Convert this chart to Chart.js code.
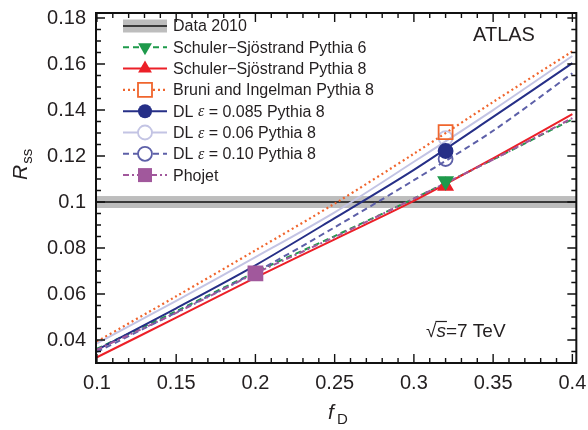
<!DOCTYPE html>
<html><head><meta charset="utf-8">
<script src="https://cdn.jsdelivr.net/npm/chart.js@4/dist/chart.umd.min.js"></script>
<style>html,body{margin:0;padding:0;background:#fff}#wrap{width:588px;height:430px;position:relative}</style>
</head><body><div id="wrap"><canvas id="c" width="588" height="430"></canvas></div>
<script>
// ---------- data ----------
const fD = [0.1, 0.15, 0.2, 0.25, 0.3, 0.35, 0.4];
const schulerP6 = [0.0362, 0.0525, 0.0695, 0.0852, 0.1015, 0.1185, 0.1360];
const schulerP8 = [0.0325, 0.0497, 0.0671, 0.0838, 0.1005, 0.1190, 0.1382];
const bruniP8   = [0.0393, 0.0590, 0.0790, 0.0993, 0.1210, 0.1435, 0.1655];
const dl085P8   = [0.0357, 0.0538, 0.0725, 0.0930, 0.1140, 0.1370, 0.1604];
const dl06P8    = [0.0385, 0.0570, 0.0760, 0.0955, 0.1175, 0.1400, 0.1635];
const dl10P8    = [0.0348, 0.0520, 0.0695, 0.0890, 0.1095, 0.1310, 0.1560];
const phojet    = [0.0358, 0.0518, 0.0690, 0.0848, 0.1015, 0.1185, 0.1365];

const pythiaMarkerX = [0.32];
const schulerP6Marker = [0.1091];
const schulerP8Marker = [0.1070];
const bruniP8Marker   = [0.1304];
const dl085P8Marker   = [0.1222];
const dl06P8Marker    = [0.1278];
const dl10P8Marker    = [0.1187];
const phojetMarkerX   = [0.2];
const phojetMarker    = [0.0690];

const data2010 = [0.1];
const data2010Err = [0.0026];

const xTicks = [0.1, 0.15, 0.2, 0.25, 0.3, 0.35, 0.4];
const xTickLabels = ['0.1', '0.15', '0.2', '0.25', '0.3', '0.35', '0.4'];
const yTicks = [0.04, 0.06, 0.08, 0.1, 0.12, 0.14, 0.16, 0.18];
const yTickLabels = ['0.04', '0.06', '0.08', '0.1', '0.12', '0.14', '0.16', '0.18'];

const legendLabels = ['Data 2010', 'Schuler\u2212Sj\u00f6strand Pythia 6', 'Schuler\u2212Sj\u00f6strand Pythia 8',
  'Bruni and Ingelman Pythia 8', 'DL \u03b5 = 0.085 Pythia 8', 'DL \u03b5 = 0.06 Pythia 8', 'DL \u03b5 = 0.10 Pythia 8', 'Phojet'];

// ---------- styles ----------
const SANS = '"Liberation Sans", Arial, Helvetica, sans-serif';
const SERIF = '"Liberation Serif", "Times New Roman", serif';
const TXT = '#231f20';
const styles = [
  null,
  {color:'#1e9a4b', dash:[6,4], width:2, shape:'triDown', fill:true, r:8},
  {color:'#ec2028', dash:[], width:2, shape:'triUp', fill:true, r:8},
  {color:'#f0652d', dash:[2,3], width:2.2, shape:'square', fill:false, r:7},
  {color:'#262f87', dash:[], width:2, shape:'circle', fill:true, r:7},
  {color:'#c3c4e4', dash:[], width:2, shape:'circle', fill:false, r:7},
  {color:'#5d60a8', dash:[6,4], width:2, shape:'circle', fill:false, r:7},
  {color:'#a1589c', dash:[6,3,2,3], width:2, shape:'square', fill:true, r:7}
];
const lineVals = [null, schulerP6, schulerP8, bruniP8, dl085P8, dl06P8, dl10P8, phojet];
const markerVals = [null, schulerP6Marker, schulerP8Marker, bruniP8Marker, dl085P8Marker, dl06P8Marker, dl10P8Marker, phojetMarker];
const markerXs = [null, pythiaMarkerX, pythiaMarkerX, pythiaMarkerX, pythiaMarkerX, pythiaMarkerX, pythiaMarkerX, phojetMarkerX];

function toPts(xs, ys){ return xs.map((x,i)=>({x:x, y:ys[i]})); }

const datasets = [];
for (let k = 1; k < styles.length; k++) {
  const s = styles[k];
  datasets.push({
    label: legendLabels[k], data: toPts(fD, lineVals[k]),
    borderColor: s.color, borderWidth: s.width, borderDash: s.dash,
    pointRadius: 0, fill: false, tension: 0.3, order: 10 - k
  });
}
for (let k = 1; k < styles.length; k++) {
  const s = styles[k];
  const pstyle = s.shape === 'circle' ? 'circle' : (s.shape === 'square' ? 'rect' : 'triangle');
  const rr = s.shape === 'square' ? s.r * 1.41 : s.r;
  datasets.push({
    label: legendLabels[k] + ' marker', data: toPts(markerXs[k], markerVals[k]),
    showLine: false, pointStyle: pstyle, pointRadius: rr,
    pointRotation: s.shape === 'triDown' ? 180 : 0,
    pointBorderColor: s.color, pointBorderWidth: 1.8,
    pointBackgroundColor: s.fill ? s.color : 'rgba(255,255,255,0)', order: 0
  });
}

function drawShape(ctx, shape, x, y, r, color, fill) {
  ctx.save();
  ctx.setLineDash([]);
  ctx.beginPath();
  if (shape === 'circle') ctx.arc(x, y, r, 0, Math.PI*2);
  else if (shape === 'square') ctx.rect(x-r, y-r, 2*r, 2*r);
  else if (shape === 'triUp') { ctx.moveTo(x, y-r); ctx.lineTo(x+r*0.866, y+r/2); ctx.lineTo(x-r*0.866, y+r/2); ctx.closePath(); }
  else if (shape === 'triDown') { ctx.moveTo(x, y+r); ctx.lineTo(x+r*0.866, y-r/2); ctx.lineTo(x-r*0.866, y-r/2); ctx.closePath(); }
  if (fill) { ctx.fillStyle = color; ctx.fill(); }
  else { ctx.fillStyle = '#fff'; ctx.fill(); ctx.strokeStyle = color; ctx.lineWidth = 1.8; ctx.stroke(); }
  ctx.restore();
}

const framePlugin = {
  id: 'frame',
  beforeDatasetsDraw(chart) {
    const ctx = chart.ctx, a = chart.chartArea, ys = chart.scales.y;
    const y0 = ys.getPixelForValue(data2010[0] + data2010Err[0]);
    const y1 = ys.getPixelForValue(data2010[0] - data2010Err[0]);
    ctx.save();
    ctx.fillStyle = '#bdbdbd';
    ctx.fillRect(a.left, y0, a.right - a.left, y1 - y0);
    const yc = ys.getPixelForValue(data2010[0]);
    ctx.strokeStyle = '#111'; ctx.lineWidth = 1.5;
    ctx.beginPath(); ctx.moveTo(a.left, yc); ctx.lineTo(a.right, yc); ctx.stroke();
    ctx.restore();
  },
  afterDraw(chart) {
    const ctx = chart.ctx, a = chart.chartArea, xs = chart.scales.x, ys = chart.scales.y;
    ctx.save();
    // ticks (inward, all four sides)
    ctx.strokeStyle = '#111'; ctx.lineWidth = 1.4;
    for (let i = 0; i <= 30; i++) {
      const v = 0.1 + i * 0.01;
      const px = xs.getPixelForValue(v);
      const len = (i % 5 === 0) ? 9 : 5;
      ctx.beginPath();
      ctx.moveTo(px, a.bottom); ctx.lineTo(px, a.bottom - len);
      ctx.moveTo(px, a.top); ctx.lineTo(px, a.top + len);
      ctx.stroke();
    }
    for (let i = 0; i <= 30; i++) {
      const v = 0.035 + i * 0.005;
      if (v > ys.max) break;
      const py = ys.getPixelForValue(v);
      const major = Math.abs((v / 0.02) - Math.round(v / 0.02)) < 1e-6;
      const len = major ? 9 : 5;
      ctx.beginPath();
      ctx.moveTo(a.left, py); ctx.lineTo(a.left + len, py);
      ctx.moveTo(a.right, py); ctx.lineTo(a.right - len, py);
      ctx.stroke();
    }
    // frame
    ctx.lineWidth = 2;
    ctx.strokeRect(a.left, a.top, a.right - a.left, a.bottom - a.top);

    // legend
    const lx0 = 123, lx1 = 167, ly0 = 26, dy = 21.3;
    ctx.textBaseline = 'middle';
    for (let k = 0; k < legendLabels.length; k++) {
      const y = ly0 + k * dy;
      if (k === 0) {
        ctx.fillStyle = '#bdbdbd'; ctx.fillRect(lx0, y - 6.5, lx1 - lx0, 13);
        ctx.strokeStyle = '#111'; ctx.lineWidth = 1.5; ctx.setLineDash([]);
        ctx.beginPath(); ctx.moveTo(lx0, y); ctx.lineTo(lx1, y); ctx.stroke();
      } else {
        const s = styles[k];
        ctx.strokeStyle = s.color; ctx.lineWidth = s.width; ctx.setLineDash(s.dash);
        ctx.beginPath(); ctx.moveTo(lx0, y); ctx.lineTo(lx1, y); ctx.stroke();
        ctx.setLineDash([]);
        drawShape(ctx, s.shape, (lx0 + lx1) / 2, y, s.r, s.color, s.fill);
      }
      ctx.fillStyle = TXT;
      const label = legendLabels[k];
      let x = 173;
      const parts = label.split('\u03b5');
      for (let p = 0; p < parts.length; p++) {
        ctx.font = '16px ' + SANS;
        ctx.fillText(parts[p], x, y + 1);
        x += ctx.measureText(parts[p]).width;
        if (p < parts.length - 1) {
          ctx.font = 'italic 16px ' + SERIF;
          ctx.fillText('\u03b5', x, y + 1);
          x += ctx.measureText('\u03b5').width;
        }
      }
    }

    // ATLAS label
    ctx.fillStyle = TXT;
    ctx.font = '20px ' + SANS; ctx.textAlign = 'center';
    ctx.fillText('ATLAS', 504, 35);

    // sqrt(s)=7 TeV
    ctx.textAlign = 'left';
    let sx = 426; const sy = 332;
    ctx.font = '19px ' + SANS;
    ctx.fillText('\u221a', sx, sy);
    sx += ctx.measureText('\u221a').width;
    ctx.font = 'italic 19px ' + SANS;
    const sw = ctx.measureText('s').width;
    ctx.fillText('s', sx, sy);
    ctx.lineWidth = 1.2; ctx.strokeStyle = TXT;
    ctx.beginPath(); ctx.moveTo(sx - 1, sy - 10.5); ctx.lineTo(sx + sw + 1, sy - 10.5); ctx.stroke();
    sx += sw;
    ctx.font = '19px ' + SANS;
    ctx.fillText('=7 TeV', sx, sy);

    // x axis title f_D
    ctx.textBaseline = 'alphabetic';
    ctx.font = 'italic 21px ' + SANS;
    ctx.fillText('f', 328, 419);
    ctx.font = '15px ' + SANS;
    ctx.fillText('D', 337, 424);

    // y axis title R_ss
    ctx.translate(27, 180);
    ctx.rotate(-Math.PI / 2);
    ctx.font = 'italic 21px ' + SANS;
    ctx.fillText('R', 0, 0);
    const rw = ctx.measureText('R').width;
    ctx.font = '15px ' + SANS;
    ctx.fillText('ss', rw + 1, 5);
    ctx.restore();
  }
};

new Chart(document.getElementById('c'), {
  type: 'line',
  data: { datasets: datasets },
  options: {
    responsive: false, animation: false, devicePixelRatio: 1,
    layout: { padding: { top: 13, right: 10, left: 0, bottom: 0 } },
    plugins: { legend: { display: false }, tooltip: { enabled: false } },
    scales: {
      x: {
        type: 'linear', min: 0.0994, max: 0.4025,
        grid: { display: false, drawTicks: false }, border: { display: false },
        afterBuildTicks: (s) => { s.ticks = xTicks.map(v => ({ value: v })); },
        afterFit: (s) => { s.height = 67; s.paddingLeft = 0; s.paddingRight = 0; },
        ticks: { autoSkip: false, maxRotation: 0, padding: 8, color: TXT,
          font: { size: 20, family: SANS },
          callback: (v, i) => xTickLabels[i] }
      },
      y: {
        type: 'linear', min: 0.03, max: 0.1822,
        grid: { display: false, drawTicks: false }, border: { display: false },
        afterBuildTicks: (s) => { s.ticks = yTicks.map(v => ({ value: v })); },
        afterFit: (s) => { s.width = 96; s.paddingTop = 0; s.paddingBottom = 0; },
        ticks: { autoSkip: false, padding: 10, color: TXT,
          font: { size: 20, family: SANS },
          callback: (v, i) => yTickLabels[i] }
      }
    }
  },
  plugins: [framePlugin]
});
</script>
</body></html>
